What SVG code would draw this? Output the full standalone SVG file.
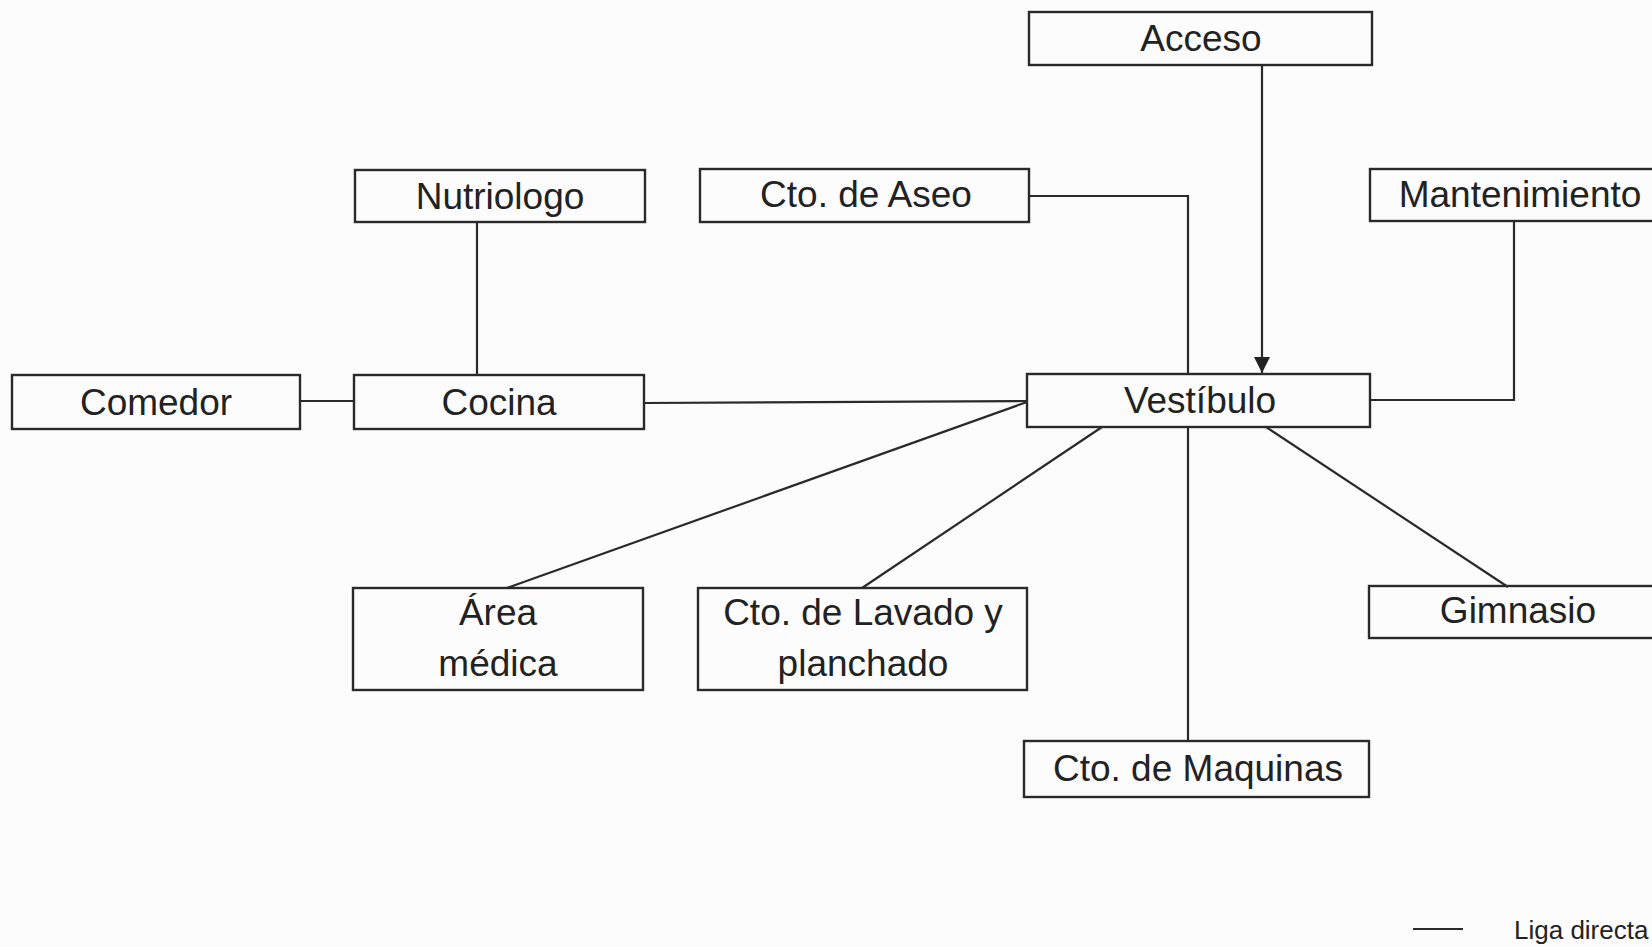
<svg xmlns="http://www.w3.org/2000/svg" width="1652" height="947" viewBox="0 0 1652 947">
<style>
.box{fill:none;stroke:#2a2a2a;stroke-width:2.4}
.lbl{font-family:"Liberation Sans",Arial,sans-serif;font-size:37px;fill:#222;text-anchor:middle}
.conn{fill:none;stroke:#2a2a2a;stroke-width:2.2}
.leg{font-family:"Liberation Sans",Arial,sans-serif;font-size:26px;fill:#222}
</style>
<defs>
<marker id="arr" viewBox="0 0 16 16" refX="16" refY="8" markerWidth="16" markerHeight="16" markerUnits="userSpaceOnUse" orient="auto">
<path d="M0,0 L16,8 L0,16 Z" fill="#222"/>
</marker>
</defs>
<rect width="1652" height="947" fill="#fcfcfc"/>
<g id="connectors">
<line class="conn" x1="1262" y1="65" x2="1262" y2="373" marker-end="url(#arr)"/>
<polyline class="conn" points="1029,196 1188,196 1188,374"/>
<polyline class="conn" points="1514,222 1514,400 1370,400"/>
<line class="conn" x1="477" y1="222" x2="477" y2="375"/>
<line class="conn" x1="300" y1="401" x2="354" y2="401"/>
<line class="conn" x1="644" y1="403" x2="1027" y2="401"/>
<line class="conn" x1="1027" y1="402" x2="507" y2="588"/>
<line class="conn" x1="1102" y1="427" x2="862" y2="588"/>
<line class="conn" x1="1188" y1="427" x2="1188" y2="741"/>
<line class="conn" x1="1266" y1="427" x2="1508" y2="587"/>
</g>
<g id="acceso"><rect class="box" x="1029" y="12" width="343" height="53"/><text class="lbl" x="1201" y="51">Acceso</text></g>
<g id="nutriologo"><rect class="box" x="355" y="170" width="290" height="52"/><text class="lbl" x="500" y="209">Nutriologo</text></g>
<g id="aseo"><rect class="box" x="700" y="169" width="329" height="53"/><text class="lbl" x="866" y="207">Cto. de Aseo</text></g>
<g id="mantenimiento"><rect class="box" x="1370" y="169" width="300" height="52"/><text class="lbl" x="1520" y="207">Mantenimiento</text></g>
<g id="comedor"><rect class="box" x="12" y="375" width="288" height="54"/><text class="lbl" x="156" y="415">Comedor</text></g>
<g id="cocina"><rect class="box" x="354" y="375" width="290" height="54"/><text class="lbl" x="499" y="415">Cocina</text></g>
<g id="vestibulo"><rect class="box" x="1027" y="374" width="343" height="53"/><text class="lbl" x="1200" y="413">Vestíbulo</text></g>
<g id="area-medica"><rect class="box" x="353" y="588" width="290" height="102"/><text class="lbl" x="498" y="625">Área</text><text class="lbl" x="498" y="676">médica</text></g>
<g id="lavado"><rect class="box" x="698" y="588" width="329" height="102"/><text class="lbl" x="863" y="625">Cto. de Lavado y</text><text class="lbl" x="863" y="676">planchado</text></g>
<g id="gimnasio"><rect class="box" x="1369" y="586" width="300" height="52"/><text class="lbl" x="1518" y="623">Gimnasio</text></g>
<g id="maquinas"><rect class="box" x="1024" y="741" width="345" height="56"/><text class="lbl" x="1198" y="781">Cto. de Maquinas</text></g>
<g id="legend">
<line class="conn" x1="1413" y1="929" x2="1463" y2="929"/>
<text class="leg" x="1514" y="939">Liga directa</text>
</g>
</svg>
